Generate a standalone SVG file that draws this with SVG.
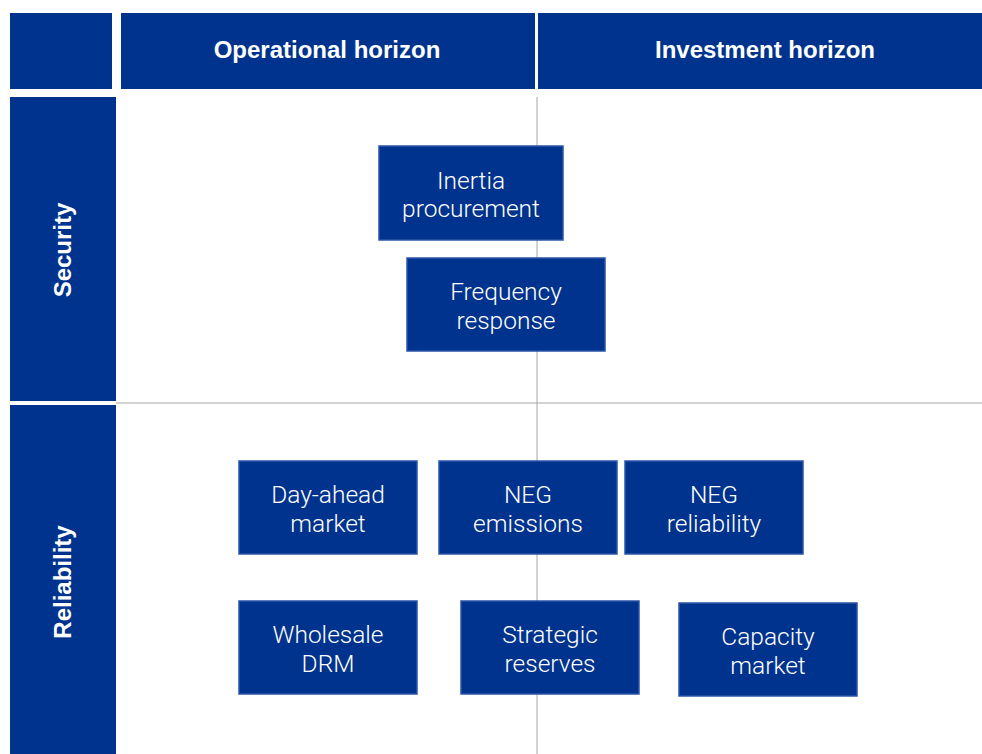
<svg xmlns="http://www.w3.org/2000/svg" width="982" height="754" viewBox="0 0 982 754">
<style>
.hdr{fill:#00338D}
.box{fill:#00338D;stroke:#2A55A8;stroke-width:1.5}
.ht{font-family:"Liberation Sans",Arial,sans-serif;font-weight:bold;font-size:24px;fill:#fff;text-anchor:middle}
.bt{font-family:Roboto,"Liberation Sans",sans-serif;font-weight:300;font-size:24.5px;fill:#fff;text-anchor:middle}
.grid{stroke:#A6A6A6;stroke-width:1;fill:none}
</style>
<rect width="982" height="754" fill="#fff"/>
<g id="connectors">
<line class="grid" x1="537" y1="97" x2="537" y2="754"/>
<line class="grid" x1="116" y1="403" x2="982" y2="403"/>
</g>
<g id="corner"><rect class="hdr" x="10" y="13" width="102" height="76"/></g>
<g id="h-operational"><rect class="hdr" x="121" y="13" width="414" height="76"/><text class="ht" x="327" y="58">Operational horizon</text></g>
<g id="h-investment"><rect class="hdr" x="538" y="13" width="444" height="76"/><text class="ht" x="765" y="58">Investment horizon</text></g>
<g id="r-security"><rect class="hdr" x="10" y="97" width="106" height="304"/><text class="ht" transform="translate(71,250) rotate(-90)">Security</text></g>
<g id="r-reliability"><rect class="hdr" x="10" y="405" width="106" height="349"/><text class="ht" transform="translate(71,582) rotate(-90)">Reliability</text></g>
<g id="inertia"><rect class="box" x="379" y="146" width="184" height="94"/><text class="bt" x="471" y="189">Inertia</text><text class="bt" x="471" y="217">procurement</text></g>
<g id="frequency"><rect class="box" x="407" y="258" width="198" height="93"/><text class="bt" x="506" y="300">Frequency</text><text class="bt" x="506" y="329">response</text></g>
<g id="dayahead"><rect class="box" x="239" y="461" width="178" height="93"/><text class="bt" x="328" y="503">Day-ahead</text><text class="bt" x="328" y="532">market</text></g>
<g id="negemissions"><rect class="box" x="439" y="461" width="178" height="93"/><text class="bt" x="528" y="503">NEG</text><text class="bt" x="528" y="532">emissions</text></g>
<g id="negreliability"><rect class="box" x="625" y="461" width="178" height="93"/><text class="bt" x="714" y="503">NEG</text><text class="bt" x="714" y="532">reliability</text></g>
<g id="wholesale"><rect class="box" x="239" y="601" width="178" height="93"/><text class="bt" x="328" y="643">Wholesale</text><text class="bt" x="328" y="672">DRM</text></g>
<g id="strategic"><rect class="box" x="461" y="601" width="178" height="93"/><text class="bt" x="550" y="643">Strategic</text><text class="bt" x="550" y="672">reserves</text></g>
<g id="capacity"><rect class="box" x="679" y="603" width="178" height="93"/><text class="bt" x="768" y="645">Capacity</text><text class="bt" x="768" y="674">market</text></g>
</svg>
